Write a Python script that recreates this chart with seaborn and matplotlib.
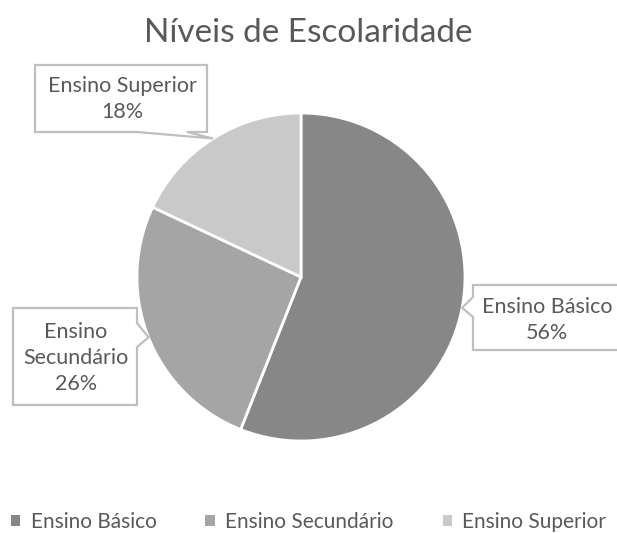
import matplotlib
matplotlib.use("Agg")
import matplotlib.pyplot as plt
import seaborn as sns
import numpy as np
from matplotlib.patches import Polygon, Patch

categories = ["Ensino Básico", "Ensino Secundário", "Ensino Superior"]
values = [56, 26, 18]
label_lines = ["Ensino Básico\n56%", "Ensino\nSecundário\n26%", "Ensino Superior\n18%"]
colors = ["#878787", "#a5a5a5", "#c9c9c9"]
title = "Níveis de Escolaridade"

sns.set_theme(style="white")
plt.rcParams['font.family'] = ['Lato', 'DejaVu Sans']
TXT = "#595959"
EDGE = "#bfbfbf"

W, H = 617, 533
fig = plt.figure(figsize=(W / 100, H / 100), dpi=100)
ax = fig.add_axes([0, 0, 1, 1])

cx, cy, r = 301, H - 277, 164
wedges, _ = ax.pie(values, colors=colors, startangle=90, counterclock=False,
                   radius=r, center=(cx, cy), frame=True,
                   wedgeprops=dict(edgecolor="white", linewidth=2))
ax.set_xlim(0, W)
ax.set_ylim(0, H)
ax.set_aspect("equal")
ax.axis("off")

# callout layout in pixel coords (x0, y0, x1, y1), notch side, notch base, text center
callouts = [
    ((473, 285, 650, 350), "left", (297, 317), (547, 320)),
    ((13, 308, 137, 405), "right", (323, 347), (76, 358)),
    ((35, 65, 207, 132), "bottom", (137, 187), (122, 99)),
]

for w, lab, (box, side, nb, tc) in zip(wedges, label_lines, callouts):
    ang = np.deg2rad((w.theta1 + w.theta2) / 2)
    tx, ty = cx + r * np.cos(ang), cy + r * np.sin(ang)
    tip = (tx, H - ty)  # pixel coords
    x0, y0, x1, y1 = box
    pts = [(x0, y0), (x1, y0)]
    if side == "right":
        pts += [(x1, nb[0]), tip, (x1, nb[1])]
    pts += [(x1, y1)]
    if side == "bottom":
        pts += [(nb[1], y1), tip, (nb[0], y1)]
    pts += [(x0, y1)]
    if side == "left":
        pts += [(x0, nb[1]), tip, (x0, nb[0])]
    poly = Polygon([(px, H - py) for px, py in pts], closed=True,
                   facecolor="white", edgecolor=EDGE, linewidth=1.6, zorder=5)
    ax.add_patch(poly)
    ax.text(tc[0], H - tc[1], lab, ha="center", va="center", color=TXT,
            multialignment="center", fontsize=15.5, linespacing=1.35, zorder=6)

fig.text(0.5, 1 - 33 / H, title, ha="center", va="center", color=TXT, fontsize=24)

handles = [Patch(facecolor=c, edgecolor="none") for c in colors]
fig.legend(handles, categories, loc="center", bbox_to_anchor=(0.5, 1 - 522 / H),
           ncol=3, frameon=False, fontsize=15, labelcolor=TXT,
           handlelength=0.45, handleheight=0.45, handletextpad=0.5,
           columnspacing=2.35)

fig.savefig("out.png", dpi=100, facecolor="white")
